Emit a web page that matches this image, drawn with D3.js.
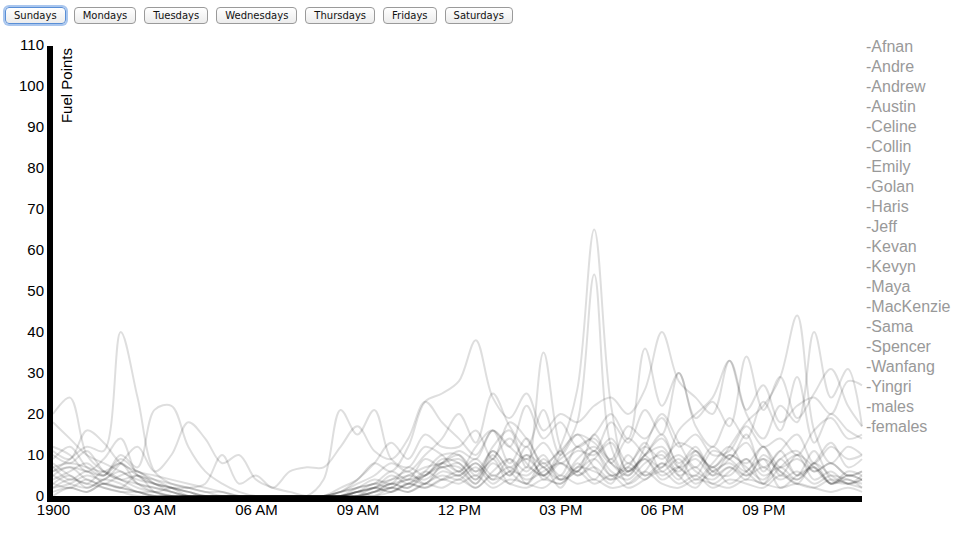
<!DOCTYPE html>
<html>
<head>
<meta charset="utf-8">
<script src="https://cdn.jsdelivr.net/npm/d3@7"></script>
<style>
  body { margin: 0; background: #fff; font-family: "Liberation Sans", Arial, sans-serif; }
  #days { position: absolute; left: 5px; top: 7px; display: flex; gap: 8px; }
  #days button {
    font: 10px "DejaVu Sans", sans-serif;
    height: 17px; padding: 0 8px; margin: 0;
    border: 1px solid #9a9a9a; border-radius: 4px;
    background: linear-gradient(#ffffff, #ececec);
    color: #111;
  }
  #days button.active { border-color: #5a8fd6; box-shadow: 0 0 0 2px #a9c6ee; }
  #chart { position: absolute; left: 0; top: 0; }
</style>
</head>
<body>
<div id="days"></div>
<svg id="chart" width="972" height="542"></svg>
<script>
const days = ['Sundays', 'Mondays', 'Tuesdays', 'Wednesdays', 'Thursdays', 'Fridays', 'Saturdays'];
const names = ['Afnan', 'Andre', 'Andrew', 'Austin', 'Celine', 'Collin', 'Emily', 'Golan', 'Haris', 'Jeff',
  'Kevan', 'Kevyn', 'Maya', 'MacKenzie', 'Sama', 'Spencer', 'Wanfang', 'Yingri', 'males', 'females'];
const yTicks = [0, 10, 20, 30, 40, 50, 60, 70, 80, 90, 100, 110];

// samples every half hour, last one just before midnight
const sampleMinutes = d3.range(0, 1440, 30).concat([1435]);

// fuel points per sample (Sundays)
const afnan     = [8,5,3,6,4,2,1,0, 0,0,0,0,0,0,0,0, 0,1,4,8,13,9,15,12, 12,16,9,18,14,8,11,15, 13,9,17,14,19,12,15,10, 11,17,12,14,10,16,19,14, 15];
const andre     = [3,2,4,2,1,1,0,0, 0,0,0,0,0,0,0,0, 0,0,1,2,1,3,2,4, 3,5,2,4,3,2,5,3, 4,2,3,6,3,2,4,3, 2,4,3,2,3,2,1,2, 1];
const andrew    = [12,10,6,9,14,5,3,2, 1,0,0,0,0,0,0,0, 0,0,2,3,6,4,9,7, 8,4,11,6,3,9,5,12, 7,3,10,5,8,4,11,6, 5,9,3,7,10,4,6,3, 5];
const austin    = [5,7,4,3,5,6,3,1, 0,0,0,0,0,0,0,0, 0,0,0,1,3,2,5,8, 6,9,5,7,4,6,8,5, 7,4,6,9,5,7,3,6, 8,5,7,4,6,3,5,4, 3];
const celine    = [6,9,12,11,40,24,6,3, 2,1,0,0,0,0,0,0, 0,0,1,2,5,3,6,4, 5,2,6,9,3,7,2,8, 4,9,3,6,11,5,2,7, 3,6,9,2,5,7,3,4, 2];
const collin    = [18,14,10,8,6,4,3,2, 0,0,0,0,0,0,0,0, 4,21,15,21,9,7,12,10, 6,12,16,8,14,7,11,5, 9,13,6,10,15,7,5,11, 9,6,12,5,10,7,3,6, 5];
const emily     = [4,6,8,5,10,7,21,22, 12,6,3,1,0,0,0,0, 0,0,1,3,2,5,4,7, 7,3,10,5,12,4,8,6, 11,5,7,13,6,9,4,8, 12,6,3,9,5,11,4,3, 4];
const golan     = [2,3,5,4,8,12,6,10, 18,14,8,10,4,2,1,0, 0,0,0,1,3,2,6,10, 10,5,12,16,7,35,12,6, 15,8,5,12,20,13,7,12, 9,15,6,11,5,8,13,7, 9];
const haris     = [20,24,10,6,4,3,2,1, 0,0,0,0,0,0,0,0, 0,0,0,1,2,4,3,6, 5,8,4,6,9,5,3,7, 6,4,8,5,7,10,6,4, 7,5,9,6,4,7,3,5, 4];
const jeff      = [10,8,11,6,4,5,3,2, 1,0,0,0,0,0,0,0, 0,1,2,4,3,7,5,9, 8,4,9,3,7,5,10,18, 54,12,5,9,4,7,11,5, 7,4,10,6,3,8,5,3, 4];
const kevan     = [0,2,1,3,2,5,1,0, 0,0,0,0,0,0,0,0, 0,0,0,2,1,3,5,8, 10,6,9,14,8,5,12,26, 65,22,6,10,14,8,12,6, 9,13,7,11,15,8,12,9, 10];
const kevyn     = [9,12,7,5,8,3,2,1, 0,0,0,0,0,0,0,0, 0,2,4,8,6,12,23,25, 28,38,24,19,25,16,20,18, 22,24,20,26,40,28,24,20, 33,21,27,18,22,24,20,28, 27];
const maya      = [7,4,6,3,2,1,0,0, 0,0,0,0,0,0,0,0, 0,0,1,2,4,6,3,8, 11,9,16,12,22,14,18,12, 15,20,14,36,22,30,19,23, 17,34,21,29,19,25,31,22, 17];
const mackenzie = [3,5,2,4,3,1,1,0, 0,0,0,0,0,0,0,0, 0,0,0,1,2,1,3,5, 4,7,3,6,5,8,4,6, 9,5,7,4,8,6,10,7, 12,18,22,29,44,16,8,12, 10];
const sama      = [2,4,3,2,1,0,0,0, 0,0,0,0,0,0,0,0, 0,0,0,0,1,3,2,4, 6,3,8,5,10,7,4,9, 12,8,14,10,7,16,20,24, 33,20,14,22,18,40,24,31, 17];
const spencer   = [5,3,2,4,6,3,1,2, 2,3,10,3,5,2,6,7, 7,12,17,11,9,14,23,18, 14,10,16,12,9,13,8,11, 10,14,8,12,9,13,11,7, 10,8,12,7,9,6,8,5, 6];
const wanfang   = [1,2,1,3,2,1,0,0, 0,0,0,0,0,0,0,0, 0,0,1,0,2,1,3,2, 4,2,5,3,2,4,3,6, 3,5,2,4,6,3,5,2, 4,3,2,5,3,2,4,3, 2];
const yingri    = [11,9,16,13,8,6,4,2, 1,0,0,0,0,0,0,0, 0,1,3,5,8,6,10,14, 20,13,25,17,12,21,10,15, 11,18,13,21,15,30,17,12, 19,14,23,16,29,13,20,16, 14];
const males     = [7,8,7,6,8,5,4,3, 2,1,1,0,0,0,0,0, 0,1,2,3,4,5,7,8, 9,6,11,7,10,5,9,12, 14,8,6,10,12,7,9,5, 10,7,4,9,11,6,8,5, 6];
const females   = [6,7,6,5,9,6,5,4, 3,2,1,0,0,0,0,0, 0,0,1,2,3,4,5,7, 5,8,4,9,6,10,4,7, 11,6,4,8,10,5,7,3, 6,9,5,7,4,8,3,5, 4];

const seriesValues = [afnan, andre, andrew, austin, celine, collin, emily, golan, haris, jeff,
  kevan, kevyn, maya, mackenzie, sama, spencer, wanfang, yingri, males, females];

const margin = { top: 45, right: 110, bottom: 46, left: 53 };
const width = 972, height = 542;

// buttons
d3.select('#days').selectAll('button')
  .data(days)
  .enter()
  .append('button')
  .attr('class', (d, i) => i === 0 ? 'active' : null)
  .text(d => d);

const svg = d3.select('#chart');
const day0 = new Date(1900, 0, 1, 0, 0);
const times = sampleMinutes.map(m => d3.timeMinute.offset(day0, m));

const x = d3.scaleTime()
  .domain([times[0], times[times.length - 1]])
  .range([margin.left, width - margin.right]);
const y = d3.scaleLinear()
  .domain([0, 110])
  .range([height - margin.bottom, margin.top]);

const line = d3.line()
  .x((d, i) => x(times[i]))
  .y(d => y(d))
  .curve(d3.curveCatmullRom.alpha(0.5));

svg.append('g')
  .selectAll('path')
  .data(seriesValues)
  .enter()
  .append('path')
  .attr('fill', 'none')
  .attr('stroke', '#000')
  .attr('stroke-opacity', 0.13)
  .attr('stroke-width', 2)
  .attr('d', line);

// x axis
const xAxisY = height - margin.bottom + 3;
const xAxis = svg.append('g')
  .attr('transform', `translate(0,${xAxisY})`)
  .call(d3.axisBottom(x).ticks(d3.timeHour.every(3)).tickSizeInner(0).tickSizeOuter(0).tickPadding(5));
xAxis.select('.domain')
  .attr('d', `M${margin.left - 6},0H${width - margin.right}`)
  .attr('stroke', '#000')
  .attr('stroke-width', 6);

// y axis
const yAxis = svg.append('g')
  .attr('transform', `translate(${margin.left - 3},0)`)
  .call(d3.axisLeft(y).tickValues(yTicks).tickSizeInner(0).tickSizeOuter(0).tickPadding(6));
yAxis.select('.domain')
  .attr('d', `M0,${margin.top + 1}V${xAxisY + 3}`)
  .attr('stroke', '#000')
  .attr('stroke-width', 6);

svg.selectAll('.tick text')
  .attr('fill', '#000')
  .style('font-family', '"Liberation Sans", Arial, sans-serif')
  .style('font-size', '15px');

svg.append('text')
  .attr('transform', `translate(${margin.left + 19},${margin.top + 3}) rotate(-90)`)
  .attr('text-anchor', 'end')
  .style('font-family', '"Liberation Sans", Arial, sans-serif')
  .style('font-size', '15px')
  .attr('fill', '#000')
  .text('Fuel Points');

// legend
svg.append('g')
  .selectAll('text')
  .data(names)
  .enter()
  .append('text')
  .attr('x', width - margin.right + 4)
  .attr('y', (d, i) => 51.5 + i * 20)
  .style('font-family', '"Liberation Sans", Arial, sans-serif')
  .style('font-size', '16px')
  .attr('fill', '#999')
  .text(d => '-' + d);
</script>
</body>
</html>
